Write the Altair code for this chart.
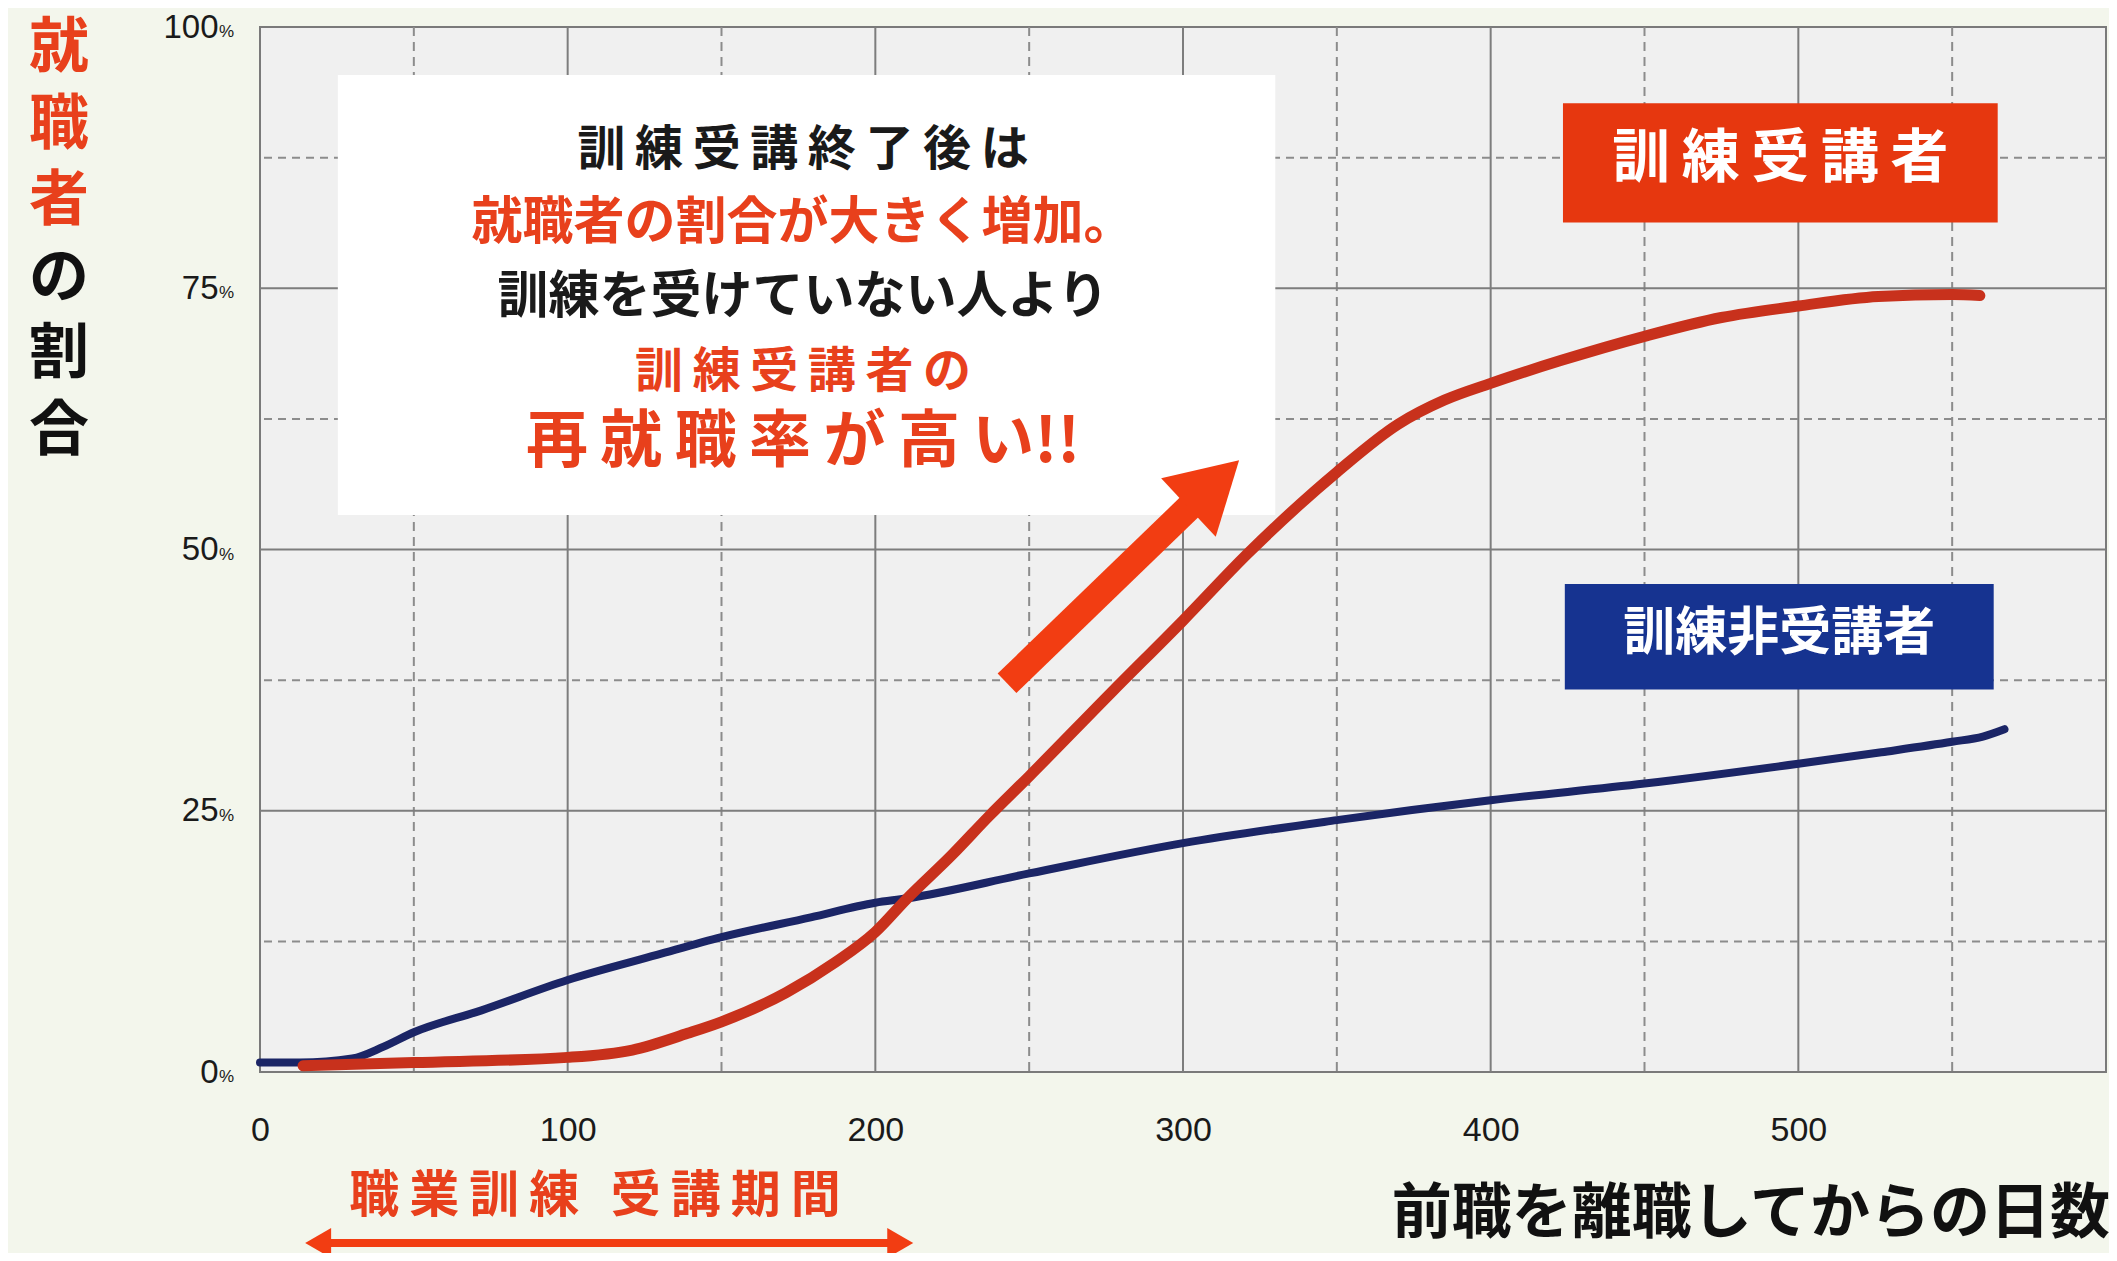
import altair as alt
import pandas as pd

# ---- data ----
days_trained = [14, 50, 100, 121, 139, 150, 171, 187, 200, 210, 225, 237, 250, 277, 300,
                321, 350, 370, 385, 400, 423, 450, 475, 500, 526, 550, 559]
rate_trained = [0.6, 0.9, 1.4, 2.1, 3.7, 4.8, 7.6, 10.5, 13.4, 16.5, 20.8, 24.5, 28.3, 36.4, 43.2,
                49.6, 57.4, 62.0, 64.3, 65.9, 68.1, 70.4, 72.2, 73.3, 74.2, 74.4, 74.3]
days_untrained = [0, 13, 30, 40, 50, 72, 100, 129, 150, 179, 200, 210, 250, 300,
                  350, 400, 450, 500, 527, 550, 560, 567]
rate_untrained = [0.9, 0.9, 1.3, 2.4, 3.8, 5.9, 8.8, 11.2, 12.9, 14.8, 16.2, 16.6, 19.0, 21.9,
                  24.1, 26.0, 27.6, 29.5, 30.6, 31.6, 32.1, 32.8]

x_labels = [0, 100, 200, 300, 400, 500]
y_labels = [0, 25, 50, 75, 100]
x_major = [100, 200, 300, 400, 500]
x_minor = [50, 150, 250, 350, 450, 550]
y_major = [25, 50, 75]
y_minor = [12.5, 37.5, 62.5, 87.5]

series_trained = "訓練受講者"
series_untrained = "訓練非受講者"
x_title = "前職を離職してからの日数"
y_title_red = "就職者"
y_title_black = "の割合"
period_label = ["職業訓練", "受講期間"]
note_lines = ["訓練受講終了後は", "就職者の割合が大きく増加。", "訓練を受けていない人より",
              "訓練受講者の", "再就職率が高い!!"]

# training period (days) and annotation anchors (days, %)
period_start, period_end = 14, 213
note_box = dict(x0=25.3, x1=330, y0=53.3, y1=95.4)
red_box = dict(x0=423.5, x1=564.8, y0=81.3, y1=92.7)
blue_box = dict(x0=424.1, x1=563.5, y0=36.6, y1=46.7)
big_arrow = dict(day0=242.8, pct0=37.2, day1=303.1, pct1=54.35, head_day=310.0, head_pct=56.27)

RED_LINE = "#c8311c"
BLUE_LINE = "#1b2566"
RED_TXT = "#e8401c"
ARROW = "#f23d12"
JP = "Noto Sans CJK JP"
NUM = "Liberation Sans"
THIN = "\u2009"


def spaced(s):
    return THIN.join(s)


XS = alt.Scale(domain=[0, 600], nice=False, zero=False)
YS = alt.Scale(domain=[0, 100], nice=False, zero=False)

xaxis = alt.Axis(values=x_labels, title=None, grid=False, ticks=False, domain=False,
                 labelFont=NUM, labelFontSize=34, labelColor="#1a1a1a", labelPadding=41,
                 labelFlush=False, labelOverlap=False)
yaxis = alt.Axis(values=y_labels, title=None, grid=False, ticks=False, domain=False,
                 labelFont=NUM, labelFontSize=33, labelColor="#1a1a1a", labelPadding=42,
                 labelFlush=False, labelOverlap=False)


def X(field):
    return alt.X(field, scale=XS, axis=xaxis)


def Y(field):
    return alt.Y(field, scale=YS, axis=yaxis)


layers = []

# grid
layers.append(alt.Chart(pd.DataFrame({"day": x_major})).mark_rule(color="#7d7d7d", strokeWidth=2)
              .encode(x=X("day:Q")))
layers.append(alt.Chart(pd.DataFrame({"day": x_minor})).mark_rule(color="#8c8c8c", strokeWidth=2, strokeDash=[9, 6])
              .encode(x=X("day:Q")))
layers.append(alt.Chart(pd.DataFrame({"pct": y_major})).mark_rule(color="#7d7d7d", strokeWidth=2)
              .encode(y=Y("pct:Q")))
layers.append(alt.Chart(pd.DataFrame({"pct": y_minor})).mark_rule(color="#8c8c8c", strokeWidth=2, strokeDash=[8, 6])
              .encode(y=Y("pct:Q")))

# small % signs next to the y labels
layers.append(alt.Chart(pd.DataFrame({"pct": y_labels})).mark_text(
    text="%", align="left", baseline="middle", dy=5, font=NUM, fontSize=17, color="#1a1a1a")
    .encode(x=alt.value(-41), y=Y("pct:Q")))


def box(b, color):
    return alt.Chart(pd.DataFrame([b])).mark_rect(color=color, opacity=1).encode(
        x=X("x0:Q"), x2="x1:Q", y=Y("y0:Q"), y2="y1:Q")


layers.append(box(note_box, "#ffffff"))

# lines
layers.append(alt.Chart(pd.DataFrame({"day": days_untrained, "pct": rate_untrained}))
              .mark_line(color=BLUE_LINE, strokeWidth=8, interpolate="monotone", strokeCap="round")
              .encode(x=X("day:Q"), y=Y("pct:Q")))
layers.append(alt.Chart(pd.DataFrame({"day": days_trained, "pct": rate_trained}))
              .mark_line(color=RED_LINE, strokeWidth=11, interpolate="monotone", strokeCap="round")
              .encode(x=X("day:Q"), y=Y("pct:Q")))

# big arrow
layers.append(alt.Chart(pd.DataFrame([big_arrow])).mark_rule(color=ARROW, strokeWidth=27, strokeCap="butt")
              .encode(x=X("day0:Q"), y=Y("pct0:Q"), x2="day1:Q", y2="pct1:Q"))
layers.append(alt.Chart(pd.DataFrame([big_arrow])).mark_point(shape="triangle-up", filled=True, size=6400,
                                                              color=ARROW, opacity=1, angle=47)
              .encode(x=X("head_day:Q"), y=Y("head_pct:Q")))

# legend boxes
layers.append(box(red_box, "#e6370f"))
layers.append(box(blue_box, "#163390"))


def data_text(text, day, pct, size, color, weight="bold"):
    return alt.Chart(pd.DataFrame({"t": [text], "day": [day], "pct": [pct]})).mark_text(
        font=JP, fontSize=size, fontWeight=weight, color=color, align="center", baseline="middle"
    ).encode(x=X("day:Q"), y=Y("pct:Q"), text="t:N")


layers.append(data_text(spaced(series_trained), (red_box["x0"] + red_box["x1"]) / 2, 87.3, 58, "#ffffff"))
layers.append(data_text(series_untrained, (blue_box["x0"] + blue_box["x1"]) / 2, 41.9, 52, "#ffffff"))

note_y = [88.16, 81.15, 74.07, 66.89, 60.19]
note_size = [48, 51, 51, 48, 62]
note_color = ["#1a1a1a", RED_TXT, "#1a1a1a", RED_TXT, RED_TXT]
note_sp = [True, False, False, True, True]
for txt, yy, sz, col, sp in zip(note_lines, note_y, note_size, note_color, note_sp):
    if sp:
        base = txt.rstrip("!")
        txt = spaced(base) + txt[len(base):]
    layers.append(data_text(txt, 176.5, yy, sz, col))


# texts outside the plot (pixel positions relative to plot origin)
def px_text(text, x, y, size, color, align="center"):
    return alt.Chart(pd.DataFrame({"t": [text]})).mark_text(
        font=JP, fontSize=size, fontWeight="bold", color=color, align=align, baseline="middle"
    ).encode(x=alt.value(x), y=alt.value(y), text="t:N")


y_title_chars = [(c, RED_TXT) for c in y_title_red] + [(c, "#111111") for c in y_title_black]
for i, (c, col) in enumerate(y_title_chars):
    layers.append(px_text(c, -201, 22 + 76.5 * i, 60, col))

layers.append(px_text(x_title, 1850, 1188, 60, "#111111", align="right"))
layers.append(px_text(spaced(period_label[0]) + THIN + " " + THIN + spaced(period_label[1]),
                      335, 1170, 50, RED_TXT))

# double-headed arrow for the training period
period = pd.DataFrame({"a": [period_start + 5], "b": [period_end - 5]})
layers.append(alt.Chart(period).mark_rule(color=ARROW, strokeWidth=8)
              .encode(x=X("a:Q"), x2="b:Q", y=alt.value(1216)))
layers.append(alt.Chart(pd.DataFrame({"day": [period_start + 4.9]})).mark_point(
    shape="triangle-left", filled=True, size=900, color=ARROW, opacity=1)
    .encode(x=X("day:Q"), y=alt.value(1216)))
layers.append(alt.Chart(pd.DataFrame({"day": [period_end - 4.9]})).mark_point(
    shape="triangle-right", filled=True, size=900, color=ARROW, opacity=1)
    .encode(x=X("day:Q"), y=alt.value(1216)))

chart = alt.layer(*layers).properties(
    width=1846, height=1045,
    autosize=alt.AutoSizeParams(type="none"),
    padding={"left": 252, "top": 19, "right": 3, "bottom": 181},
    background="#f3f6ec",
).configure_view(fill="#f0f0f0", stroke="#7a7a7a", strokeWidth=2)

chart.save("out.html", embed_options={"renderer": "svg", "actions": False})
